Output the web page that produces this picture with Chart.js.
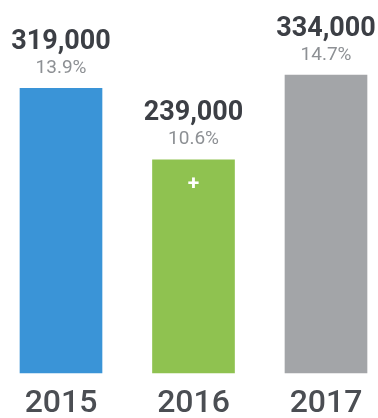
<!DOCTYPE html>
<html>
<head>
<meta charset="utf-8">
<script src="https://cdn.jsdelivr.net/npm/chart.js@4"></script>
<style>
  html, body { margin: 0; padding: 0; background: #fff; }
  #wrap { width: 378px; height: 418px; }
</style>
</head>
<body>
<div id="wrap"><canvas id="myChart"></canvas></div>
<script>
"use strict";

// yearly totals and share
var years = ['2015', '2016', '2017'];
var totals = [319000, 239000, 334000];
var shares = ['13.9%', '10.6%', '14.7%'];
var barColors = ['#3a94d7', '#8fc250', '#a3a5a8'];

// the middle bar carries a small white plus
var plusIndex = 1;

// value + share written above every bar
var topLabels = {
  id: 'topLabels',
  afterDatasetsDraw: function (chart) {
    var ctx = chart.ctx;
    var meta = chart.getDatasetMeta(0);
    ctx.save();
    ctx.textAlign = 'center';
    ctx.textBaseline = 'middle';
    meta.data.forEach(function (bar, i) {
      ctx.fillStyle = '#3c3f45';
      ctx.font = 'bold 27px Roboto';
      ctx.fillText(totals[i].toLocaleString('en-US'), bar.x, bar.y - 46);
      ctx.fillStyle = '#8d9094';
      ctx.font = '19px Roboto';
      ctx.fillText(shares[i], bar.x, bar.y - 20);
      if (i == plusIndex) {
        ctx.fillStyle = '#ffffff';
        ctx.font = 'bold 21px Roboto';
        ctx.fillText('+', bar.x, bar.y + 25);
      }
    });
    ctx.restore();
  }
};

var ctx = document.getElementById('myChart').getContext('2d');

var chart = new Chart(ctx, {
  type: 'bar',
  data: {
    labels: years,
    datasets: [{
      data: totals,
      backgroundColor: barColors,
      borderWidth: 0,
      barThickness: 82,
      clip: false
    }]
  },
  options: {
    responsive: true,
    maintainAspectRatio: false,
    animation: false,
    layout: {
      padding: { left: 61, right: 52, top: 0, bottom: 0 }
    },
    plugins: {
      legend: { display: false },
      tooltip: { enabled: false }
    },
    scales: {
      x: {
        offset: false,
        grid: { display: false, drawTicks: false },
        border: { display: false },
        ticks: {
          maxRotation: 0,
          autoSkip: false,
          padding: 12,
          color: '#4b4e53',
          font: { family: 'Roboto', size: 32, weight: '500' }
        },
        afterFit: function (scale) {
          scale.height = 45;
        }
      },
      y: {
        display: false,
        min: 0,
        max: 418000
      }
    }
  },
  plugins: [topLabels]
});
</script>
</body>
</html>
